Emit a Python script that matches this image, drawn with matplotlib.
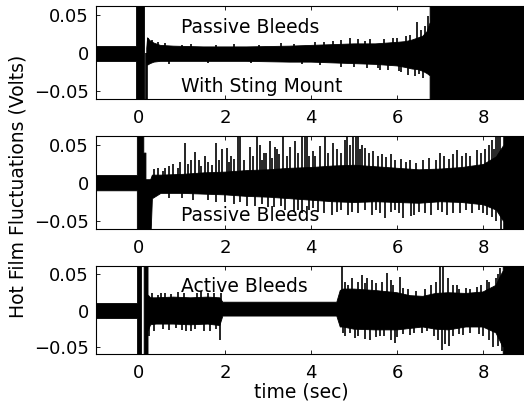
import numpy as np
import matplotlib
matplotlib.use("Agg")
import matplotlib.pyplot as plt

plt.rcParams['font.family'] = ['DejaVu Sans']

# ---------------- data ----------------
xticks = [0, 2, 4, 6, 8]
yticks = [-0.05, 0, 0.05]
ytick_labels = ['\u22120.05', '0', '0.05']

# Panel 1: Passive Bleeds, With Sting Mount  (signal envelope + spikes)
t1 = [-1.0, -0.08, -0.08, 0.12, 0.14, 0.18, 0.2, 0.26, 0.35, 0.5, 0.8, 1.5, 2.5, 3.5,
      4.0, 4.5, 5.0, 5.5, 6.0, 6.2, 6.35, 6.5, 6.6, 6.7, 6.77, 6.77, 9.0]
u1 = [0.009, 0.009, 0.08, 0.08, np.nan, 0.006, 0.02, 0.016, 0.013, 0.010, 0.009, 0.008, 0.008, 0.009,
      0.010, 0.011, 0.012, 0.012, 0.014, 0.015, 0.017, 0.02, 0.022, 0.028, 0.04, 0.08, 0.08]
l1 = [-0.010, -0.010, -0.08, -0.08, np.nan, -0.012, -0.016, -0.014, -0.012, -0.011, -0.011, -0.011, -0.011, -0.012,
      -0.012, -0.013, -0.014, -0.015, -0.017, -0.019, -0.021, -0.022, -0.024, -0.027, -0.03, -0.08, -0.08]
spk1_t = [0.17, 0.19, 0.22, 0.3, 0.45, 1.2, 2.2, 3.3, 4.5, 4.9, 5.1, 5.37, 5.55, 5.6,
          5.9, 6.1, 6.22, 6.26, 6.42, 6.46, 6.6, 6.72,
          0.6, 1.0, 1.8, 2.8, 3.6, 4.1, 4.3, 4.7, 5.25, 5.7, 6.0, 6.3, 6.55, 6.65,
          0.7, 1.6, 2.6, 3.8, 4.2, 4.7, 5.0, 5.3, 5.8, 6.05, 6.5]
spk1_v = [-0.08, -0.06, 0.02, 0.017, 0.014, 0.012, 0.012, 0.013, 0.016, 0.02, 0.018, 0.019, -0.02, -0.022,
          0.02, -0.025, 0.022, -0.029, -0.03, 0.041, -0.033, 0.048,
          0.013, 0.011, 0.011, 0.011, 0.012, 0.014, 0.015, 0.017, 0.016, 0.018, 0.02, 0.024, 0.03, 0.035,
          -0.014, -0.013, -0.013, -0.015, -0.016, -0.018, -0.019, -0.02, -0.022, -0.024, -0.028]

# Panel 2: Passive Bleeds
t2 = [-1.0, -0.05, -0.05, 0.1, 0.1, 0.15, 0.15, 0.26, 0.3, 0.5, 1.0, 1.5, 2.0, 2.5, 3.0, 3.5,
      4.0, 4.5, 5.0, 5.5, 6.0, 6.5, 7.0, 7.5, 8.0, 8.3, 8.47, 8.47, 9.0]
u2 = [0.0105, 0.0105, 0.08, 0.08, 0.04, 0.04, 0.005, 0.005, 0.011, 0.011, 0.012, 0.014, 0.015, 0.017, 0.018, 0.02,
      0.021, 0.023, 0.024, 0.022, 0.02, 0.018, 0.019, 0.021, 0.025, 0.035, 0.05, 0.08, 0.08]
l2 = [-0.0096, -0.0096, -0.08, -0.08, -0.08, -0.08, -0.08, -0.08, -0.02, -0.013, -0.013, -0.014, -0.015, -0.017, -0.018, -0.02,
      -0.022, -0.024, -0.025, -0.024, -0.025, -0.026, -0.024, -0.025, -0.028, -0.035, -0.05, -0.08, -0.08]
spk2_t = [0.6, 0.8, 1.07, 1.3, 1.4, 1.53, 1.8, 1.92, 2.04, 2.15, 2.31, 2.35, 2.58, 2.74, 2.81, 2.9,
          3.05, 3.16, 3.2, 3.35, 3.51, 3.63, 3.78, 3.86, 3.9, 4.21, 4.33, 4.52, 4.79, 4.83, 4.98,
          5.05, 5.1, 5.18, 5.26, 5.64, 6.3, 7.0, 7.39, 7.85, 8.3, 8.4,
          2.0, 2.5, 3.0, 3.4, 3.6, 3.8, 4.16, 4.48, 4.85, 5.41, 5.72, 6.15, 6.32, 6.8, 7.16, 7.47, 8.09, 8.42,
          0.35, 0.45, 0.55, 0.7, 0.9, 0.95, 1.15, 1.22, 1.45, 1.6, 1.7, 1.85, 2.1, 2.2, 2.45, 2.65, 2.85, 2.95,
          3.1, 3.25, 3.45, 3.7, 3.95, 4.05, 4.1, 4.4, 4.6, 4.7, 4.9, 5.15, 5.35, 5.45, 5.55, 5.75, 5.85, 5.95,
          6.1, 6.2, 6.45, 6.6, 6.75, 6.9, 7.1, 7.2, 7.3, 7.5, 7.6, 7.7, 7.95, 8.05, 8.15, 8.2, 8.25, 8.35,
          0.4, 0.7, 1.0, 1.25, 1.6, 1.8, 2.2, 2.35, 2.7, 2.85, 3.15, 3.3, 3.7, 3.95, 4.05, 4.3, 4.6, 4.7,
          4.95, 5.1, 5.25, 5.5, 5.6, 5.85, 5.95, 6.05, 6.4, 6.5, 6.65, 6.95, 7.05, 7.3, 7.6, 7.75, 7.9, 8.0,
          8.2, 8.3]
spk2_v = [0.02, 0.025, 0.053, 0.041, 0.03, 0.035, 0.053, 0.045, 0.046, 0.035, 0.07, 0.07, 0.047, 0.07, 0.05, 0.04,
          0.055, 0.047, 0.045, 0.07, 0.047, 0.055, 0.07, 0.07, 0.07, 0.048, 0.07, 0.052, 0.057, 0.07, 0.07,
          0.07, 0.06, 0.05, 0.046, 0.038, 0.03, 0.039, 0.043, 0.043, 0.07, 0.07,
          -0.025, -0.03, -0.032, -0.035, -0.038, -0.04, -0.038, -0.042, -0.042, -0.042, -0.046, -0.046, -0.044,
          -0.042, -0.042, -0.04, -0.042, -0.07,
          0.018, 0.02, 0.016, 0.022, 0.02, 0.028, 0.025, 0.03, 0.022, 0.028, 0.024, 0.03, 0.028, 0.032, 0.03, 0.036, 0.03, 0.04,
          0.033, 0.038, 0.035, 0.04, 0.035, 0.042, 0.036, 0.04, 0.045, 0.04, 0.05, 0.045, 0.04, 0.042, 0.035, 0.034, 0.038, 0.03,
          0.032, 0.028, 0.026, 0.03, 0.033, 0.03, 0.036, 0.032, 0.038, 0.035, 0.04, 0.036, 0.04, 0.045, 0.05, 0.057, 0.045, 0.06,
          -0.016, -0.02, -0.02, -0.022, -0.022, -0.025, -0.028, -0.025, -0.03, -0.028, -0.032, -0.03, -0.035, -0.036, -0.033, -0.04, -0.038, -0.036,
          -0.038, -0.04, -0.035, -0.036, -0.04, -0.038, -0.035, -0.04, -0.042, -0.038, -0.04, -0.036, -0.038, -0.04, -0.035, -0.04, -0.036, -0.04,
          -0.045, -0.05]

# Panel 3: Active Bleeds
t3 = [-1.0, -0.05, -0.05, 0.05, 0.08, 0.12, 0.21, 0.21, 0.27, 0.4, 0.8, 1.2, 1.6, 1.88, 1.95,
      2.5, 3.0, 3.5, 4.0, 4.6, 4.68, 4.75, 5.0, 5.5, 6.0, 6.3, 6.6, 6.9, 7.2, 7.6, 8.0, 8.3, 8.47, 8.47, 9.0]
u3 = [0.011, 0.011, 0.08, 0.08, np.nan, 0.08, 0.08, 0.022, 0.018, 0.018, 0.019, 0.018, 0.019, 0.018, 0.012,
      0.012, 0.012, 0.012, 0.012, 0.012, 0.028, 0.03, 0.03, 0.028, 0.025, 0.021, 0.02, 0.024, 0.025, 0.024, 0.026, 0.035, 0.055, 0.08, 0.08]
l3 = [-0.009, -0.009, -0.08, -0.08, np.nan, -0.08, -0.08, -0.028, -0.019, -0.018, -0.018, -0.019, -0.018, -0.02, -0.007,
      -0.007, -0.007, -0.007, -0.007, -0.007, -0.022, -0.022, -0.025, -0.026, -0.026, -0.024, -0.022, -0.025, -0.026, -0.022, -0.022, -0.03, -0.05, -0.08, -0.08]
spk3_t = [0.24, 0.5, 0.9, 1.2, 1.5, 1.88, 1.9, 4.71, 4.74, 4.95, 5.02, 5.18, 5.37, 5.41, 5.6, 5.76,
          5.95, 6.07, 6.3, 6.57, 7.0, 7.04, 7.08, 7.19, 7.2, 7.39, 7.54, 8.09, 8.24, 8.4, 8.45,
          0.3, 0.45, 0.6, 0.75, 1.05, 1.35, 1.45, 1.6, 1.75,
          0.35, 0.55, 0.7, 0.85, 1.0, 1.1, 1.3, 1.65, 1.8,
          4.8, 4.85, 5.1, 5.25, 5.3, 5.5, 5.65, 5.85, 5.9, 6.15, 6.25, 6.45, 6.65, 6.8, 6.9, 7.3, 7.45, 7.6,
          7.7, 7.85, 7.95, 8.15, 8.3, 8.35,
          4.8, 4.9, 5.1, 5.25, 5.5, 5.7, 5.85, 6.0, 6.15, 6.4, 6.7, 6.85, 6.95, 7.12, 7.3, 7.45, 7.7, 7.9,
          8.0, 8.15, 8.35]
spk3_v = [-0.035, 0.024, 0.026, -0.027, -0.028, -0.04, 0.024, 0.08, -0.03, 0.045, -0.037, 0.049, -0.04, 0.043, -0.035, 0.052,
          -0.044, 0.047, -0.033, -0.03, 0.08, -0.053, 0.08, 0.045, -0.048, 0.036, -0.033, 0.043, -0.05, 0.059, -0.055,
          0.024, 0.022, 0.025, 0.023, 0.024, 0.025, 0.028, 0.024, 0.025,
          -0.028, -0.025, -0.026, -0.024, -0.026, -0.028, -0.025, -0.027, -0.025,
          0.04, 0.035, 0.04, 0.038, 0.045, 0.038, 0.04, 0.042, 0.036, 0.032, 0.03, 0.028, 0.03, 0.035, 0.04, 0.035, 0.03, 0.032,
          0.03, 0.033, 0.035, 0.04, 0.045, 0.05,
          -0.035, -0.03, -0.035, -0.038, -0.036, -0.034, -0.04, -0.036, -0.032, -0.03, -0.028, -0.034, -0.04, -0.045, -0.035, -0.032, -0.03, -0.032,
          -0.035, -0.04, -0.048]

panel_texts = [
    [("Passive Bleeds", 0.98, 0.026), ("With Sting Mount", 0.98, -0.051)],
    [("Passive Bleeds", 0.98, -0.0496)],
    [("Active Bleeds", 0.98, 0.0264)],
]

# ---------------- layout ----------------
W, H = 524, 408
fig = plt.figure(figsize=(W / 100, H / 100), dpi=100)

def px_axes(left, top, right, bottom):
    return fig.add_axes([left / W, 1 - bottom / H, (right - left) / W, (bottom - top) / H])

ax1 = px_axes(96, 6, 526, 99)
ax2 = px_axes(96, 136, 526, 229)
ax3 = px_axes(96, 266, 526, 354)
ylims = [(-0.0605, 0.0618), (-0.0605, 0.0618), (-0.059, 0.0616)]

data = [(t1, u1, l1, spk1_t, spk1_v), (t2, u2, l2, spk2_t, spk2_v), (t3, u3, l3, spk3_t, spk3_v)]
FS = 13.5
TFS = 13
for ax, (t, u, l, st, sv), yl, texts in zip([ax1, ax2, ax3], data, ylims, panel_texts):
    ax.fill_between(t, l, u, color='black', linewidth=0.6, edgecolor='black')
    ax.vlines(st, 0, sv, color='black', linewidth=1.2)
    ax.set_xlim(-1, 9)
    ax.set_ylim(*yl)
    ax.set_xticks(xticks)
    ax.set_xticklabels([str(x) for x in xticks])
    ax.set_yticks(yticks)
    ax.set_yticklabels(ytick_labels)
    ax.tick_params(direction='in', length=3, width=0.6, top=True, right=True,
                   labelsize=TFS)
    ax.tick_params(axis='x', pad=7)
    ax.tick_params(axis='y', pad=5)
    for sp in ax.spines.values():
        sp.set_linewidth(0.8)
    for s, x, y in texts:
        ax.text(x, y, s, fontsize=FS, ha='left', va='baseline')

fig.text(301 / W, 1 - 392 / H, "time (sec)", fontsize=FS, ha='center', va='center')
fig.text(18 / W, 1 - 186 / H, "Hot Film Fluctuations (Volts)", fontsize=FS,
         rotation=90, ha='center', va='center')

fig.savefig("out.png", dpi=100)
